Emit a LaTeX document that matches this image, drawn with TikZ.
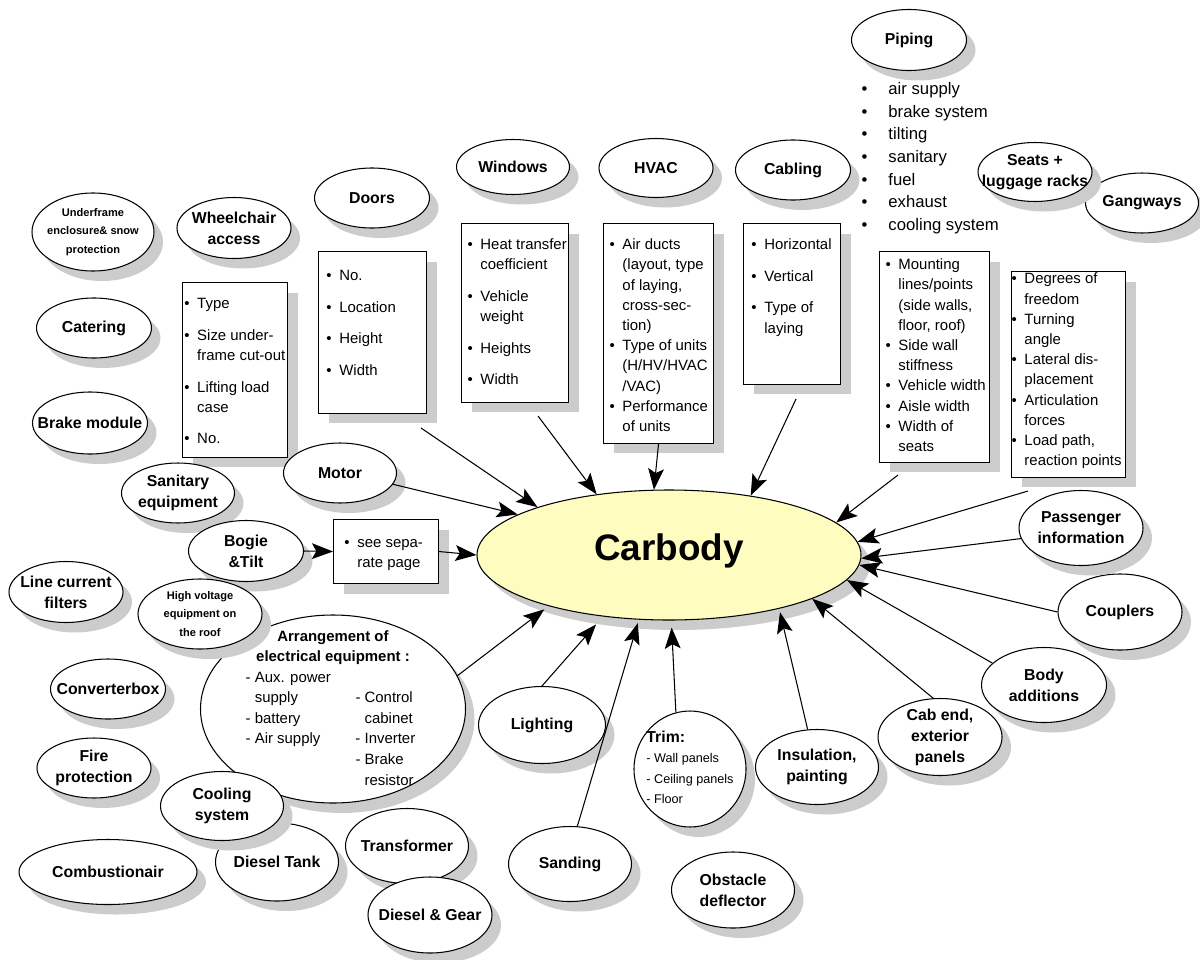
\documentclass[tikz,border=0pt]{standalone}
\usepackage{fontspec}
\setmainfont{Liberation Sans}
\usetikzlibrary{shapes.geometric,shadows,arrows.meta,calc}

\newcommand{\blist}[5]{\parbox[c][#2][t]{#1}{\vspace*{#3}\begin{tabular}{@{\hspace{#4}}l@{\hspace{4.4pt}}l@{}}#5\end{tabular}}}

\begin{document}
\begin{tikzpicture}[x=0.02cm, y=-0.02cm, line width=0.6pt,
    oval/.style 2 args={ellipse, draw, fill=white, inner sep=-20pt, align=center,
        minimum width=#1*0.02cm, minimum height=#2*0.02cm,
        font=\bfseries\fontsize{9}{12}\selectfont,
        drop shadow={shadow xshift=0.18cm, shadow yshift=-0.2cm, fill=black!20, opacity=1}},
    listbox/.style={rectangle, draw, fill=white, inner sep=0pt, anchor=north west,
        font=\fontsize{8.5}{11.5}\selectfont,
        drop shadow={shadow xshift=0.2cm, shadow yshift=-0.2cm, fill=black!20, opacity=1}},
    link/.style={-{Stealth[length=12pt, width=9pt, inset=2.5pt]}}]

        \useasboundingbox (0, 0) rectangle (1200, 960);

        \node[oval={115}{61}] (piping) at (909, 40) {Piping};
        \node[anchor=north west, inner sep=0pt, font=\fontsize{9.5}{12.9}\selectfont] (pipinglist) at (861, 78)
            {\begin{tabular}{@{}l@{\hspace{12pt}}l@{}}
            \textbullet & air supply\\ \textbullet & brake system\\ \textbullet & tilting\\
            \textbullet & sanitary\\ \textbullet & fuel\\ \textbullet & exhaust\\
            \textbullet & cooling system
            \end{tabular}};

        \node[oval={113}{60}] (gangways) at (1142, 203) {Gangways};
        \node[oval={114}{59}] (seats) at (1035, 172) {Seats +\\luggage racks};

        \node[oval={113}{55}] (windows) at (513, 167) {Windows};
        \node[oval={114}{59}] (hvac) at (656, 168) {HVAC};
        \node[oval={115}{60}] (cabling) at (793, 170) {Cabling};
        \node[oval={115}{60}] (doors) at (372, 198) {Doors};
        \node[oval={114}{61}] (wheelchair) at (234, 228) {Wheelchair\\access};
        \node[oval={122}{78}, font=\bfseries\fontsize{6.3}{10.5}\selectfont] (underframe) at (93, 232)
            {Underframe\\enclosure\& snow\\protection};
        \node[oval={115}{60}] (catering) at (94, 328) {Catering};
        \node[oval={115}{62}] (brake) at (90, 423) {Brake module};

        \node[listbox] (wheelbox) at (182, 282) {\blist{2.10cm}{3.50cm}{6.8pt}{1pt}{
            \textbullet & Type\\[6.5pt]
            \textbullet & Size under-\\ & frame cut-out\\[6.5pt]
            \textbullet & Lifting load\\ & case\\[6.5pt]
            \textbullet & No.}};
        \node[listbox] (doorsbox) at (318, 251) {\blist{2.16cm}{3.24cm}{8.5pt}{4.5pt}{
            \textbullet & No.\\[6.5pt]
            \textbullet & Location\\[6.5pt]
            \textbullet & Height\\[6.5pt]
            \textbullet & Width}};
        \node[listbox] (windowsbox) at (461, 223) {\blist{2.14cm}{3.58cm}{6.8pt}{3.4pt}{
            \textbullet & Heat transfer\\ & coefficient\\[6.5pt]
            \textbullet & Vehicle\\ & weight\\[6.5pt]
            \textbullet & Heights\\[6.5pt]
            \textbullet & Width}};
        \node[listbox] (hvacbox) at (603, 223) {\blist{2.20cm}{4.40cm}{6.8pt}{3.4pt}{
            \textbullet & Air ducts\\ & (layout, type\\ & of laying,\\ & cross-sec-\\ & tion)\\
            \textbullet & Type of units\\ & (H/HV/HVAC\\ & /VAC)\\
            \textbullet & Performance\\ & of units}};
        \node[listbox] (cablingbox) at (743, 223) {\blist{1.94cm}{3.22cm}{6.8pt}{4.5pt}{
            \textbullet & Horizontal\\[6.5pt]
            \textbullet & Vertical\\[6.5pt]
            \textbullet & Type of\\ & laying}};
        \node[listbox] (seatsbox) at (879, 251) {\blist{2.20cm}{4.22cm}{2.3pt}{3.4pt}{
            \textbullet & Mounting\\ & lines/points\\ & (side walls,\\ & floor, roof)\\
            \textbullet & Side wall\\ & stiffness\\
            \textbullet & Vehicle width\\
            \textbullet & Aisle width\\
            \textbullet & Width of\\ & seats}};
        \node[listbox] (gangwaysbox) at (1011, 271) {\blist{2.28cm}{4.12cm}{-1pt}{0pt}{
            \textbullet & Degrees of\\ & freedom\\
            \textbullet & Turning\\ & angle\\
            \textbullet & Lateral dis-\\ & placement\\
            \textbullet & Articulation\\ & forces\\
            \textbullet & Load path,\\ & reaction points}};

        \node[oval={113}{60}] (sanitary) at (178, 493) {Sanitary\\equipment};
        \node[oval={113}{60}] (motor) at (340, 473) {Motor};
        \node[oval={115}{61}] (bogie) at (246, 551) {Bogie\\\&Tilt};
        \node[listbox] (seebox) at (333, 519) {\blist{2.10cm}{1.28cm}{8pt}{6.2pt}{
            \textbullet & see sepa-\\ & rate page}};
        \node[oval={114}{61}] (linefilter) at (66, 592) {Line current\\filters};

        \node[oval={265}{188}, font=\fontsize{8.5}{11.7}\selectfont] (arrange) at (333, 709)
            {\begin{tabular}{@{}l@{\hspace{14pt}}l@{}}
            \multicolumn{2}{c}{\bfseries Arrangement of}\\
            \multicolumn{2}{c}{\bfseries electrical equipment :}\\
            - Aux. power & \\
            \phantom{- }supply & - Control\\
            - battery & \phantom{- }cabinet\\
            - Air supply & - Inverter\\
             & - Brake\\
             & \phantom{- }resistor
            \end{tabular}};
        \node[oval={124}{70}, font=\bfseries\fontsize{6.3}{10.5}\selectfont] (highvolt) at (200, 614)
            {High voltage\\equipment on\\the roof};
        \node[oval={115}{60}] (converter) at (108, 689) {Converterbox};
        \node[oval={114}{60}] (fire) at (94, 768) {Fire\\protection};
        \node[oval={123}{78}] (dieseltank) at (277, 862) {Diesel Tank};
        \node[oval={123}{69}] (cooling) at (222, 806) {Cooling\\system};
        \node[oval={178}{65}] (combustion) at (108, 872) {Combustionair};
        \node[oval={123}{75}] (transformer) at (407, 846) {Transformer};
        \node[oval={124}{76}] (dieselgear) at (430, 915) {Diesel \& Gear};

        \node[oval={127}{77}] (lighting) at (542, 725) {Lighting};
        \node[oval={123}{75}] (sanding) at (570, 864) {Sanding};
        \node[oval={112}{116}, font=\fontsize{7.2}{11.6}\selectfont] (trim) at (690, 769)
            {\begin{tabular}{@{}l@{}}
            {\bfseries\fontsize{9}{11.6}\selectfont Trim:}\\
            - Wall panels\\
            - Ceiling panels\\
            - Floor
            \end{tabular}};
        \node[oval={123}{76}] (obstacle) at (733, 890) {Obstacle\\deflector};
        \node[oval={123}{75}] (insulation) at (817, 767) {Insulation,\\painting};
        \node[oval={124}{77}] (cabend) at (940, 737) {Cab end,\\exterior\\panels};
        \node[oval={125}{75}] (bodyadd) at (1044, 685) {Body\\additions};
        \node[oval={124}{76}] (couplers) at (1120, 612) {Couplers};
        \node[oval={124}{75}] (passenger) at (1081, 528) {Passenger\\information};

        \node[oval={384}{130}, fill=yellow!25, font=\bfseries\fontsize{21}{24}\selectfont] (carbody) at (669, 555)
            {\raisebox{0pt}[\height][\dimexpr\depth+5pt\relax]{Carbody}};

        \draw[link] ($(doorsbox.south east)+(-6, 14)$) -- (carbody.160);
        \draw[link] ($(windowsbox.south)+(23, 13)$) -- (carbody.140);
        \draw[link] (hvacbox.south) -- (carbody.103);
        \draw[link] ($(cablingbox.south)+(4, 14)$) -- (carbody.36);
        \draw[link] ($(seatsbox.south west)+(19, 12)$) -- (carbody.11);
        \draw[link] ($(gangwaysbox.south west)+(17, 13)$) -- (carbody.4);
        \draw[link] (passenger.190) -- (carbody.-1);
        \draw[link] (couplers.west) -- (carbody.-3);
        \draw[link] (bodyadd.157) -- (carbody.-8);
        \draw[link] (cabend.100) -- (carbody.-17);
        \draw[link, shorten >=2pt] (insulation.104) -- (carbody.-26);
        \draw[link, shorten >=4pt] (trim.104) -- (carbody.-88);
        \draw[link, shorten >=2pt] (sanding.79) -- (carbody.-115);
        \draw[link, shorten >=6pt] (lighting.north) -- (carbody.-137);
        \draw[link, shorten >=3pt] (arrange.15) -- (carbody.-157);
        \draw[link] (motor.-12) -- (carbody.165);
        \draw[link] (bogie.east) -- (seebox.west);
        \draw[link] (seebox.east) -- (carbody.west);

\end{tikzpicture}
\end{document}
